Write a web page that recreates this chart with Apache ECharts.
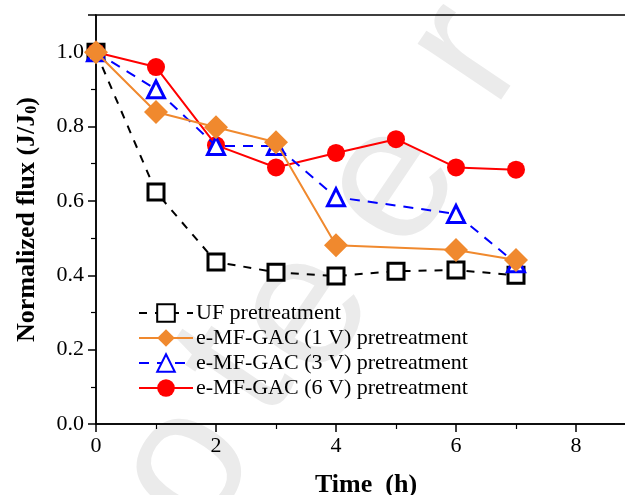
<!DOCTYPE html>
<html><head><meta charset="utf-8">
<script src="https://cdn.jsdelivr.net/npm/echarts@6/dist/echarts.min.js"></script>
<style>html,body{margin:0;padding:0;background:#fff}#c{width:625px;height:495px}</style>
</head><body><div id="c"></div>
<script>
const ufX = [0, 1, 2, 3, 4, 5, 6, 7];
const ufY = [1.0, 0.624, 0.436, 0.408, 0.398, 0.411, 0.414, 0.40];
const v1X = [0, 1, 2, 3, 4, 6, 7];
const v1Y = [1.0, 0.839, 0.798, 0.758, 0.481, 0.468, 0.441];
const v3X = [0, 1, 2, 3, 4, 6, 7];
const v3Y = [1.0, 0.90, 0.748, 0.748, 0.61, 0.565, 0.432];
const v6X = [0, 1, 2, 3, 4, 5, 6, 7];
const v6Y = [1.0, 0.96, 0.75, 0.69, 0.729, 0.766, 0.69, 0.684];
const names = ['UF pretreatment', 'e-MF-GAC (1 V) pretreatment', 'e-MF-GAC (3 V) pretreatment', 'e-MF-GAC (6 V) pretreatment'];
const xTicks = [0, 2, 4, 6, 8];
const wmLetters = ['o', 't', 'e', 'e', 'r'];

const pair = (xs, ys) => xs.map((x, i) => [x, ys[i]]);
const font = 'Liberation Serif, Times New Roman, serif';
const wmPos = [[187, 468], [238, 372], [305, 312], [392, 185], [468, 55]];
const chart = echarts.init(document.getElementById('c'), null, {renderer: 'canvas'});
chart.setOption({
  animation: false,
  graphic: wmLetters.map((ch, i) => ({
    type: 'text', z: -10, rotation: 56 * Math.PI / 180,
    x: wmPos[i][0], y: wmPos[i][1],
    style: {text: ch, fill: '#ebebeb', font: '190px Liberation Sans, sans-serif', align: 'center', verticalAlign: 'middle'}
  })),
  grid: {left: 96, top: 15, bottom: 71, width: 540, outerBoundsMode: 'none', containLabel: false,
    show: true, borderColor: '#000', borderWidth: 1.5, z: 1},
  legend: {
    orient: 'vertical', left: 133, top: 297, itemGap: 3, itemWidth: 54, itemHeight: 22,
    textStyle: {fontFamily: font, fontSize: 22, color: '#000', padding: [0, 0, 0, -2]},
    data: names
  },
  xAxis: {
    type: 'value', min: 0, max: 9, interval: 2,
    axisLine: {lineStyle: {color: '#000', width: 1.5}},
    axisTick: {inside: false, length: 8, lineStyle: {color: '#000', width: 1.5}},
    minorTick: {show: true, splitNumber: 2, length: 5, lineStyle: {color: '#000', width: 1.2}},
    splitLine: {show: false},
    axisLabel: {fontFamily: font, fontSize: 22, color: '#000', margin: 11, showMaxLabel: false,
      formatter: v => xTicks.includes(v) ? String(v) : ''},
    name: 'Time  (h)', nameLocation: 'middle', nameGap: 48,
    nameTextStyle: {fontFamily: font, fontSize: 26, fontWeight: 'bold', color: '#000'}
  },
  yAxis: {
    type: 'value', min: 0, max: 1.1, interval: 0.2,
    axisLine: {lineStyle: {color: '#000', width: 1.5}},
    axisTick: {inside: false, length: 8, lineStyle: {color: '#000', width: 1.5}},
    minorTick: {show: true, splitNumber: 2, length: 5, lineStyle: {color: '#000', width: 1.2}},
    splitLine: {show: false},
    axisLabel: {fontFamily: font, fontSize: 22, color: '#000', margin: 12, showMaxLabel: false,
      formatter: v => v.toFixed(1)},
    name: '{a|Normalized flux (J/J}{s|0}{a|)}', nameLocation: 'middle', nameGap: 56,
    nameTextStyle: {
      rich: {
        a: {fontFamily: font, fontSize: 26, fontWeight: 'bold', color: '#000'},
        s: {fontFamily: font, fontSize: 16, fontWeight: 'bold', color: '#000', verticalAlign: 'bottom', padding: [10, 0, 0, 0]}
      }
    }
  },
  series: [
    {name: names[0], type: 'line', data: pair(ufX, ufY), symbol: 'rect', symbolSize: 16, z: 3,
      lineStyle: {color: '#000', width: 2, type: [8, 8]},
      itemStyle: {color: '#fff', borderColor: '#000', borderWidth: 3}},
    {name: names[1], type: 'line', data: pair(v1X, v1Y), symbol: 'diamond', symbolSize: 24, z: 6,
      lineStyle: {color: '#F0892E', width: 2},
      itemStyle: {color: '#F0892E', borderColor: '#F0892E', borderWidth: 0}},
    {name: names[2], type: 'line', data: pair(v3X, v3Y), symbol: 'triangle', symbolSize: 17, z: 5,
      lineStyle: {color: '#0000FF', width: 2, type: [10, 8]},
      itemStyle: {color: '#fff', borderColor: '#0000FF', borderWidth: 3}},
    {name: names[3], type: 'line', data: pair(v6X, v6Y), symbol: 'circle', symbolSize: 18, z: 4,
      lineStyle: {color: '#FF0000', width: 2},
      itemStyle: {color: '#FF0000', borderColor: '#FF0000', borderWidth: 0}}
  ]
});
</script></body></html>
